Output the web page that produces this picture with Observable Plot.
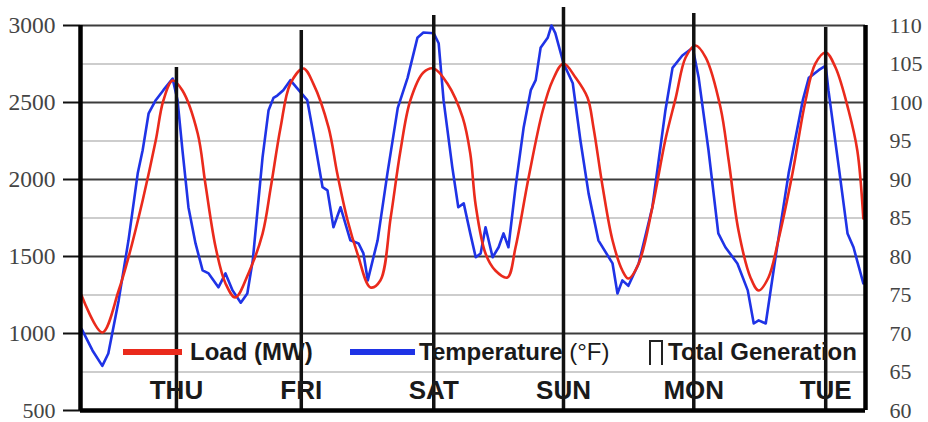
<!DOCTYPE html>
<html>
<head>
<meta charset="utf-8">
<script src="https://cdn.jsdelivr.net/npm/d3@7"></script>
<script src="https://cdn.jsdelivr.net/npm/@observablehq/plot@0.6"></script>
<style>
  html, body { margin: 0; padding: 0; background: #fff; }
  #wrap { position: relative; width: 928px; height: 422px; }
  #legend { position: absolute; left: 0; top: 0; pointer-events: none; }
</style>
</head>
<body>
<div id="wrap"></div>
<script>
// ---- data ----
const xDomain = [0, 144];          // hours from start of window
const yDomain = [500, 3000];       // MW (left axis)
const tempDomain = [60, 110];      // °F (right axis)

const mwTicks = [500, 1000, 1500, 2000, 2500, 3000];
const mwMinor = [750, 1250, 1750, 2250, 2750];
const tempTicks = [60, 65, 70, 75, 80, 85, 90, 95, 100, 105, 110];

const days = ["THU", "FRI", "SAT", "SUN", "MON", "TUE"];
const genHour = [17.6, 40.5, 64.8, 88.6, 112.5, 136.7];
const genMW = [2727, 2968, 3065, 3117, 3078, 2987];

const loadHour = [0.2, 4.0, 7.0, 8.8, 11.4, 13.8, 15.2, 16.9, 18.7, 21.5, 22.9, 24.8, 26.6, 28.4, 30.8, 33.4, 34.9, 36.7, 38.5, 40.9, 42.7, 45.5, 47.1, 49.0, 50.8, 53.2, 55.0, 56.9, 58.7, 60.5, 62.9, 64.8, 67.3, 70.1, 71.5, 72.5, 74.3, 76.1, 78.3, 79.8, 82.2, 84.8, 86.6, 88.6, 90.8, 93.0, 94.1, 95.8, 97.6, 99.4, 100.5, 102.4, 104.9, 107.3, 109.2, 111.0, 112.8, 114.7, 117.4, 118.9, 120.7, 122.9, 124.4, 126.2, 128.0, 130.6, 133.0, 134.8, 136.7, 138.5, 140.9, 142.5, 143.6];
const loadMW = [1247, 1007, 1279, 1494, 1864, 2253, 2513, 2643, 2578, 2299, 1974, 1558, 1325, 1234, 1390, 1649, 1948, 2338, 2623, 2721, 2623, 2338, 2039, 1734, 1519, 1299, 1344, 1753, 2188, 2513, 2695, 2721, 2623, 2403, 2169, 1831, 1519, 1409, 1364, 1558, 2013, 2448, 2643, 2753, 2662, 2532, 2338, 1948, 1604, 1409, 1357, 1455, 1818, 2260, 2532, 2792, 2870, 2792, 2468, 2123, 1669, 1364, 1279, 1364, 1604, 2039, 2513, 2753, 2825, 2727, 2448, 2188, 1747];

const tempHour = [0.2, 2.2, 4.0, 5.1, 7.0, 8.8, 10.5, 11.4, 12.5, 13.8, 15.2, 16.9, 17.8, 18.7, 19.8, 21.1, 22.4, 23.5, 25.3, 26.6, 27.9, 29.4, 30.6, 31.6, 33.4, 34.5, 35.4, 36.1, 37.2, 38.5, 39.8, 41.6, 42.7, 44.4, 45.3, 46.4, 47.7, 49.5, 51.0, 51.9, 52.7, 54.5, 56.3, 58.2, 60.0, 61.8, 62.9, 64.8, 65.7, 66.6, 68.2, 69.3, 70.3, 71.5, 72.5, 73.4, 74.3, 75.6, 76.7, 77.6, 78.5, 79.8, 81.3, 82.6, 83.5, 84.4, 85.7, 86.4, 87.1, 88.6, 90.3, 91.7, 93.2, 95.0, 97.6, 98.5, 99.4, 100.5, 102.4, 104.9, 107.3, 108.6, 110.4, 112.3, 113.4, 115.2, 117.0, 118.3, 120.5, 122.4, 123.5, 124.4, 125.7, 127.5, 129.9, 132.5, 133.6, 135.4, 136.7, 137.2, 139.1, 140.7, 141.8, 143.6];
const tempF = [70.6, 67.8, 65.8, 67.4, 74.3, 82.1, 90.8, 93.8, 98.6, 100.3, 101.6, 103.1, 100.3, 93.8, 86.4, 81.7, 78.2, 77.8, 76.0, 77.8, 75.6, 74.0, 75.2, 79.5, 92.9, 99.0, 100.6, 100.9, 101.6, 102.9, 101.8, 100.3, 96.0, 89.0, 88.6, 83.8, 86.4, 82.1, 81.7, 80.4, 76.9, 82.1, 90.8, 99.3, 103.2, 108.4, 109.1, 109.0, 107.7, 100.3, 91.6, 86.4, 86.9, 83.0, 79.9, 80.4, 83.8, 79.9, 81.2, 83.0, 81.2, 89.0, 96.8, 101.6, 102.9, 107.1, 108.4, 110.0, 109.0, 105.1, 102.5, 95.1, 88.2, 82.1, 79.1, 75.2, 76.9, 76.2, 79.1, 86.4, 99.0, 104.5, 106.1, 107.1, 103.2, 93.8, 83.0, 81.2, 79.1, 75.6, 71.3, 71.7, 71.3, 79.9, 90.8, 100.3, 103.2, 104.2, 104.8, 101.6, 91.6, 83.0, 81.2, 76.5];

// ---- tables ----
const tempToMW = t => yDomain[0] + (t - tempDomain[0]) * (yDomain[1] - yDomain[0]) / (tempDomain[1] - tempDomain[0]);
const mwToTemp = v => tempDomain[0] + (v - yDomain[0]) * (tempDomain[1] - tempDomain[0]) / (yDomain[1] - yDomain[0]);
const loadData = loadHour.map((h, i) => ({h, mw: loadMW[i]}));
const tempData = tempHour.map((h, i) => ({h, f: tempF[i]}));
const genData = genHour.map((h, i) => ({h, mw: genMW[i], day: days[i]}));

const RED = "#ea2a1c";
const BLUE = "#1f33e6";
const sans = "'Liberation Sans', Arial, sans-serif";
const serif = "'Liberation Serif', 'DejaVu Serif', serif";

const chart = Plot.plot({
  width: 928,
  height: 422,
  marginLeft: 80,
  marginRight: 63,
  marginTop: 25,
  marginBottom: 12,
  style: {background: "#fff", fontSize: "22px"},
  x: {domain: xDomain, axis: null},
  y: {domain: yDomain, axis: null},
  marks: [
    Plot.ruleY(mwMinor, {stroke: "#cdcdcd", strokeWidth: 2}),
    Plot.ruleY(mwTicks, {stroke: "#3c3c3c", strokeWidth: 2}),
    Plot.axisY({ticks: mwTicks, anchor: "left", label: null, tickSize: 17, tickPadding: 8,
      tickFormat: d => String(d), fill: "#444", stroke: "#111", strokeWidth: 2,
      ariaLabel: "mw-axis"}),
    Plot.axisY({ticks: tempTicks.map(tempToMW), anchor: "right", label: null, tickSize: 0, tickPadding: 24,
      tickFormat: v => String(Math.round(mwToTemp(v))), fill: "#444"}),
    Plot.line(tempData, {x: "h", y: d => tempToMW(d.f), stroke: BLUE, strokeWidth: 2.6, strokeLinejoin: "round"}),
    Plot.line(loadData, {x: "h", y: "mw", stroke: RED, strokeWidth: 2.6, curve: "catmull-rom"}),
    Plot.ruleX(genData, {x: "h", y1: yDomain[0], y2: "mw", stroke: "#111", strokeWidth: 3.5}),
    Plot.text(genData, {x: "h", text: "day", frameAnchor: "bottom", dy: -12,
      fontSize: 26, fontWeight: "bold", fontFamily: sans, fill: "#1a1a1a"}),
    Plot.ruleX([xDomain[0]], {stroke: "#000", strokeWidth: 4.5}),
    Plot.ruleX([xDomain[1]], {stroke: "#000", strokeWidth: 4.5}),
    Plot.ruleY([yDomain[0]], {stroke: "#000", strokeWidth: 4.5})
  ]
});

const wrap = document.getElementById("wrap");
wrap.appendChild(chart);

// serif face for the numeric tick labels on both axes (left ones slightly larger)
d3.select(chart).selectAll("text")
  .filter(function () { return /^\d+$/.test(this.textContent.trim()); })
  .attr("font-family", serif)
  .style("font-family", serif)
  .style("font-size", function () { return this.textContent.trim().length >= 4 ? "23.5px" : "22px"; });

// legend (inside the plot area)
const leg = d3.select(wrap).append("svg")
  .attr("id", "legend").attr("width", 928).attr("height", 422)
  .attr("font-family", sans);
leg.append("line").attr("x1", 123).attr("x2", 182).attr("y1", 352).attr("y2", 352)
  .attr("stroke", RED).attr("stroke-width", 6);
leg.append("text").attr("x", 190).attr("y", 360).attr("font-size", 24).attr("font-weight", "bold")
  .attr("fill", "#1a1a1a").text("Load (MW)");
leg.append("line").attr("x1", 350).attr("x2", 415).attr("y1", 352).attr("y2", 352)
  .attr("stroke", BLUE).attr("stroke-width", 6);
const tt = leg.append("text").attr("x", 419).attr("y", 360).attr("font-size", 24)
  .attr("fill", "#1a1a1a");
tt.append("tspan").attr("font-weight", "bold").text("Temperature");
tt.append("tspan").text(" (°F)");
leg.append("path").attr("d", "M650,365V341H662V365").attr("fill", "none")
  .attr("stroke", "#222").attr("stroke-width", 2);
leg.append("text").attr("x", 668).attr("y", 360).attr("font-size", 24).attr("font-weight", "bold")
  .attr("fill", "#1a1a1a").text("Total Generation");
</script>
</body>
</html>
